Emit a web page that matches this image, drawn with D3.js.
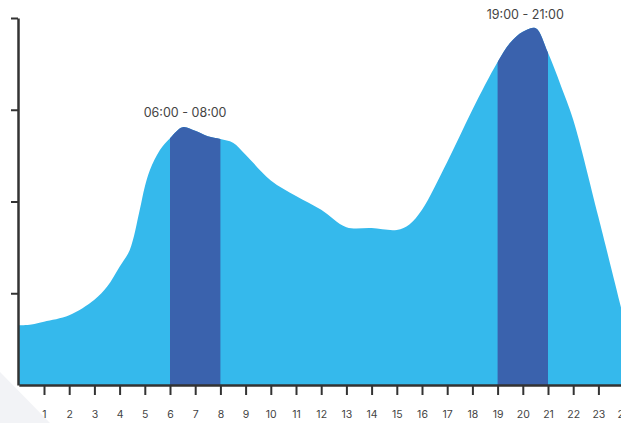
<!DOCTYPE html>
<html>
<head>
<meta charset="utf-8">
<script src="https://cdn.jsdelivr.net/npm/d3@7"></script>
<style>
  html, body { margin: 0; padding: 0; background: #ffffff; }
  svg { display: block; }
  text { font-family: Inter, "Open Sans", sans-serif; }
</style>
</head>
<body>
<div id="chart"></div>
<script>
// hour of day (fractional hours used for shape detail)
const hours  = [0, 0.5, 1, 2, 3, 3.5, 4, 4.4, 4.8, 5, 5.2, 5.6, 6, 6.5, 7, 7.5, 8, 8.5, 9, 10, 11, 12, 13, 14, 15, 15.5, 16, 17, 18, 19, 19.5, 20, 20.5, 21, 21.5, 22, 23, 24];
const values = [65, 66, 69, 76, 93, 107, 129, 147, 191, 216, 234, 256, 269, 281, 277, 271, 268, 264, 251, 223, 206, 191, 172, 171, 169, 175, 191, 243, 300, 352, 373, 385, 389, 362, 327, 289, 183, 73];
const xTicks = [1, 2, 3, 4, 5, 6, 7, 8, 9, 10, 11, 12, 13, 14, 15, 16, 17, 18, 19, 20, 21, 22, 23, 24];
const yTicks = [100, 200, 300, 400];
const bandStarts = [6, 19];
const bandEnds   = [8, 21];
const bandLabels = ["06:00 - 08:00", "19:00 - 21:00"];
const labelHours = [6.6, 20.1];
const labelValues = [292, 399];

const W = 621, H = 423;
const svg = d3.select("#chart").append("svg").attr("width", W).attr("height", H);

// decorative background triangle
svg.append("path")
  .attr("d", "M0,372 L50,423 L0,423 Z")
  .attr("fill", "#f2f3f6");

const x = d3.scaleLinear().domain([0, 24]).range([18.8, 623.6]);
const y = d3.scaleLinear().domain([0, 400]).range([385, 18]);

const data = hours.map((h, i) => ({ h, v: values[i] }));

const area = d3.area()
  .x(d => x(d.h))
  .y0(y(0))
  .y1(d => y(d.v))
  .curve(d3.curveCatmullRom.alpha(0.5));

svg.append("path")
  .datum(data)
  .attr("d", area)
  .attr("fill", "#35b9ec");

const defs = svg.append("defs");
bandStarts.forEach((s, i) => {
  const id = "band" + i;
  defs.append("clipPath").attr("id", id)
    .append("rect")
    .attr("x", x(s))
    .attr("y", 0)
    .attr("width", x(bandEnds[i]) - x(s))
    .attr("height", H);
  svg.append("path")
    .datum(data)
    .attr("d", area)
    .attr("fill", "#3a62ad")
    .attr("clip-path", "url(#" + id + ")");
});

// band labels
bandLabels.forEach((t, i) => {
  svg.append("text")
    .attr("x", x(labelHours[i]))
    .attr("y", y(labelValues[i]))
    .attr("text-anchor", "middle")
    .attr("font-size", 12.5)
    .attr("fill", "#444")
    .text(t);
});

// x axis
const xAxis = svg.append("g")
  .attr("transform", "translate(0,385)")
  .call(d3.axisBottom(x).tickValues(xTicks).tickSize(10).tickSizeOuter(0).tickPadding(16).tickFormat(d3.format("d")));
xAxis.select(".domain").attr("stroke", "#333").attr("stroke-width", 2.5);
xAxis.selectAll(".tick line").attr("stroke", "#333").attr("stroke-width", 2);
xAxis.selectAll(".tick text").attr("fill", "#444").attr("font-size", 10.5).attr("font-family", "Inter, sans-serif");

// y axis
const yAxis = svg.append("g")
  .attr("transform", "translate(18,0)")
  .call(d3.axisLeft(y).tickValues(yTicks).tickSize(7).tickSizeOuter(0).tickFormat(""));
yAxis.select(".domain").attr("stroke", "#333").attr("stroke-width", 2.5);
yAxis.selectAll(".tick line").attr("stroke", "#333").attr("stroke-width", 2);
</script>
</body>
</html>
